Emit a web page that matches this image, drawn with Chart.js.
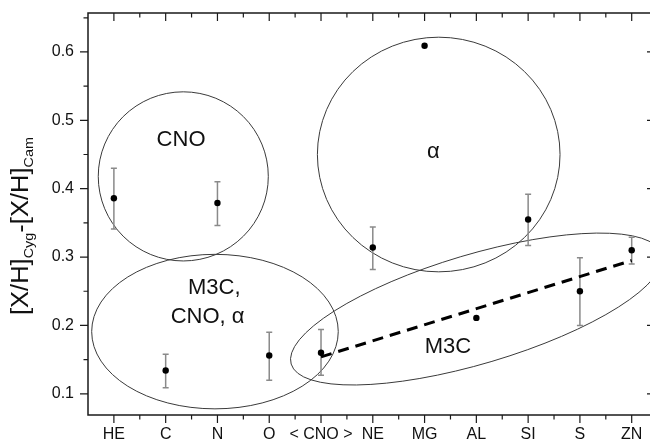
<!DOCTYPE html>
<html><head><meta charset="utf-8">
<script src="https://cdn.jsdelivr.net/npm/chart.js@4/dist/chart.umd.min.js"></script>
<style>html,body{margin:0;padding:0;background:#fff;overflow:hidden;width:650px;height:441px}canvas{display:block}</style>
</head><body><canvas id="c" width="660" height="441"></canvas>
<script>
// ---- data ----
const categories = ['HE','C','N','O','< CNO >','NE','MG','AL','SI','S','ZN'];
const values  = [0.386,0.134,0.379,0.156,0.160,0.314,0.609,0.211,0.355,0.250,0.310];
const errLow  = [0.341,0.109,0.346,0.120,0.127,0.282,null,null,0.317,0.200,0.290];
const errHigh = [0.430,0.158,0.410,0.190,0.194,0.344,null,null,0.392,0.299,0.329];
const trendX = [4,10];
const trendY = [0.154,0.295];
const yTicks = [0.1,0.2,0.3,0.4,0.5,0.6];
const yMinorTicks = [0.15,0.25,0.35,0.45,0.55,0.65];

// group annotations (center in category/value units)
const groups = [
  {cx:1.340, cy:0.418, rx:1.642, ry:0.1237, rot:0},
  {cx:6.273, cy:0.450, rx:2.343, ry:0.1716, rot:0},
  {cx:1.952, cy:0.191, rx:2.381, ry:0.113, rot:0},
  {cx:7.000, cy:0.224, rx:3.731, ry:0.0799, rot:-16.55}
];
const groupLabels = [
  {text:'CNO', x:1.297, y:0.4713},
  {text:'\u03b1', x:6.17, y:0.4537},
  {text:'M3C,', x:1.939, y:0.2553},
  {text:'CNO, \u03b1', x:1.809, y:0.2126},
  {text:'M3C', x:6.45, y:0.1682}
];
const titleParts = [
  {t:'[X/H]', sub:false},{t:'Cyg', sub:true},{t:'-[X/H]', sub:false},{t:'Cam', sub:true}
];

const FONT = "'Liberation Sans', Arial, Helvetica, sans-serif";
Chart.defaults.font.family = FONT;

const decor = {
  id:'decor',
  beforeDatasetsDraw(chart){
    const ctx = chart.ctx, xs = chart.scales.x, ys = chart.scales.y;
    const pxCat = xs.getPixelForValue(1) - xs.getPixelForValue(0);
    const pxVal = ys.getPixelForValue(0) - ys.getPixelForValue(1);
    ctx.save();
    ctx.strokeStyle = '#3a3a3a'; ctx.lineWidth = 1;
    groups.forEach(g=>{
      ctx.beginPath();
      ctx.ellipse(xs.getPixelForValue(g.cx), ys.getPixelForValue(g.cy), g.rx*pxCat, g.ry*pxVal, g.rot*Math.PI/180, 0, Math.PI*2);
      ctx.stroke();
    });
    // error bars
    ctx.strokeStyle = '#8a8a8a'; ctx.lineWidth = 1.5;
    values.forEach((v,i)=>{
      if(errLow[i]==null) return;
      const x = xs.getPixelForValue(i), y1 = ys.getPixelForValue(errLow[i]), y2 = ys.getPixelForValue(errHigh[i]);
      ctx.beginPath();
      ctx.moveTo(x,y1); ctx.lineTo(x,y2);
      ctx.moveTo(x-3,y1); ctx.lineTo(x+3,y1);
      ctx.moveTo(x-3,y2); ctx.lineTo(x+3,y2);
      ctx.stroke();
    });
    // labels
    ctx.fillStyle = '#111'; ctx.font = '22px ' + FONT;
    ctx.textAlign = 'center'; ctx.textBaseline = 'middle';
    groupLabels.forEach(l=>{
      ctx.fillText(l.text, xs.getPixelForValue(l.x), ys.getPixelForValue(l.y));
    });
    ctx.restore();
  },
  afterDraw(chart){
    const ctx = chart.ctx, xs = chart.scales.x, ys = chart.scales.y, a = chart.chartArea;
    ctx.save();
    ctx.strokeStyle = '#1a1a1a'; ctx.lineWidth = 1.5;
    ctx.strokeRect(a.left, a.top, a.right-a.left, a.bottom-a.top);
    ctx.lineWidth = 1.2;
    ctx.beginPath();
    categories.forEach((c,i)=>{
      const x = xs.getPixelForValue(i);
      ctx.moveTo(x,a.bottom); ctx.lineTo(x,a.bottom+8);
      ctx.moveTo(x,a.top); ctx.lineTo(x,a.top+8);
      if(i<categories.length-1){
        const xm = xs.getPixelForValue(i+0.5);
        ctx.moveTo(xm,a.bottom); ctx.lineTo(xm,a.bottom+4.5);
        ctx.moveTo(xm,a.top); ctx.lineTo(xm,a.top+4.5);
      }
    });
    yTicks.forEach(v=>{
      const y = ys.getPixelForValue(v);
      ctx.moveTo(a.left-8,y); ctx.lineTo(a.left,y);
      ctx.moveTo(a.right-8,y); ctx.lineTo(a.right,y);
    });
    yMinorTicks.forEach(v=>{
      const y = ys.getPixelForValue(v);
      ctx.moveTo(a.left-4.5,y); ctx.lineTo(a.left,y);
      ctx.moveTo(a.right-4.5,y); ctx.lineTo(a.right,y);
    });
    ctx.stroke();
    // y title with subscripts
    ctx.fillStyle = '#111';
    ctx.translate(28, 315);
    ctx.rotate(-Math.PI/2);
    ctx.textBaseline = 'alphabetic'; ctx.textAlign = 'left';
    let w = 0;
    titleParts.forEach(p=>{ ctx.font = (p.sub?'13px ':'23px ') + FONT; w += ctx.measureText(p.t).width; });
    const k = 178 / w;
    ctx.scale(k,1);
    let x = 0;
    titleParts.forEach(p=>{
      ctx.font = (p.sub?'13px ':'23px ') + FONT;
      ctx.fillText(p.t, x, p.sub?5:0);
      x += ctx.measureText(p.t).width;
    });
    ctx.restore();
  }
};

function noPad(s){ s.paddingTop = 0; s.paddingBottom = 0; s.paddingLeft = 0; s.paddingRight = 0; }

new Chart(document.getElementById('c'), {
  type:'scatter',
  data:{
    datasets:[
      {type:'line', data:trendX.map((x,i)=>({x:x,y:trendY[i]})), borderColor:'#000', borderWidth:3,
       borderDash:[11,7], pointRadius:0, fill:false},
      {data:values.map((v,i)=>({x:i,y:v})), pointRadius:3.2, backgroundColor:'#000', borderWidth:0}
    ]
  },
  options:{
    responsive:false, animation:false, devicePixelRatio:1,
    layout:{padding:{top:13,right:5,left:0,bottom:0}},
    plugins:{legend:{display:false}, tooltip:{enabled:false}},
    scales:{
      x:{type:'linear', min:-0.5, max:10.45,
         grid:{display:false}, border:{display:false},
         afterBuildTicks:s=>{ s.ticks = categories.map((_,i)=>({value:i})); },
         afterFit:s=>{ s.height = 26; noPad(s); },
         ticks:{padding:2, color:'#111', font:{size:16}, autoSkip:false, maxRotation:0,
                callback:v=>categories[v] ?? ''}},
      y:{min:0.069, max:0.657,
         grid:{display:false}, border:{display:false},
         afterBuildTicks:s=>{ s.ticks = yTicks.map(v=>({value:v})); },
         afterFit:s=>{ s.width = 88; noPad(s); },
         ticks:{padding:6, color:'#111', font:{size:16}, callback:v=>Number(v).toFixed(1)}}
    }
  },
  plugins:[decor]
});
</script>
</body></html>
